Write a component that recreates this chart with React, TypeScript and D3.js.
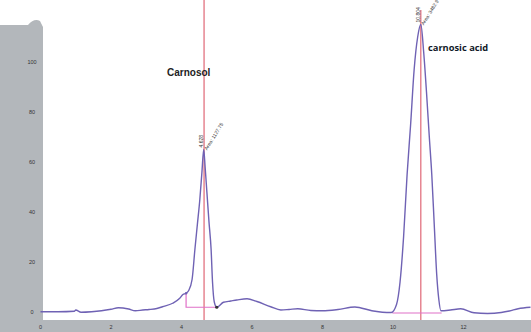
import React from "react";
import * as d3 from "d3";

// retention time (min) and detector response
const times = [
    0, 0.5, 0.96, 1.0, 1.15, 1.45, 1.73, 2.0, 2.21, 2.5, 2.69, 2.9, 3.08, 3.3, 3.46, 3.75, 3.95, 4.04, 4.13,
    4.2, 4.3, 4.38, 4.45, 4.52, 4.58, 4.63, 4.67, 4.72, 4.78, 4.84, 4.88, 4.93, 5.0,
    5.19, 5.4, 5.57, 5.86, 6.14, 6.53, 6.82, 7.05, 7.3, 7.67, 8.0, 8.44, 8.92, 9.4, 9.7, 9.95,
    10.1, 10.2, 10.3, 10.4, 10.5, 10.6, 10.7, 10.79, 10.87, 10.95, 11.03, 11.1, 11.17, 11.24, 11.3, 11.36,
    11.63, 11.92, 12.3, 12.68, 13.07, 13.3, 13.55, 13.9
];
const response = [
    0.1, 0.1, 0.3, 0.8, -0.1, 0.1, 0.5, 1.1, 1.7, 1.2, 0.5, 0.8, 1.0, 1.4, 2.1, 3.5, 5.5, 7.0, 7.5,
    8.5, 13, 25, 35, 45, 56, 65, 58, 48, 36, 25, 12, 4, 1.9,
    3.9, 4.4, 4.8, 5.3, 4.2, 2.1, 0.8, 1.0, 1.3, 0.6, 0.5, 1.0, 2.0, 0.5, -0.1, -0.2,
    3, 12, 30, 55, 75, 97, 110, 115, 104, 88, 70, 55, 35, 15, 5, 0.5,
    0.8, 1.3, -0.3, -0.6, -0.2, 0.4, 1.3, 1.9
];

const xTicks = [0, 2, 4, 6, 8, 10, 12];
const yTicks = [0, 20, 40, 60, 80, 100];

// integrated peaks: apex time, label, area, baseline start/end
const peakTimes = [4.64, 10.79];
const peakRT = ["4.628", "10.804"];
const peakAreas = ["Area: 1127.75", "Area: 3482.9"];
const peakBaseStart = [[4.13, 7.5], [9.98, -0.4]];
const peakBaseEnd = [[5.0, 1.9], [11.38, -0.4]];

const W = 531;
const H = 332;

const x = d3.scaleLinear().domain([0, 14]).range([40.5, 534]);
const y = d3.scaleLinear().domain([0, 100]).range([312, 62]);

const points: [number, number][] = times.map((t, i) => [t, response[i]]);

export default function App() {
    const line = d3.line<[number, number]>()
        .x(d => x(d[0]))
        .y(d => y(d[1]))
        .curve(d3.curveMonotoneX);

    const grey = "#b3b7bb";

    return <div style={{position: "absolute", left: 0, top: 0}}>
        <svg width={W} height={H} style={{display: "block", background: "#fff"}}>
            {/* frame */}
            <path d={`M0,${H} V25 H28 Q34,18 40,21 L43,27 V320 H${W} V${H} Z`} fill={grey}/>

            {/* red retention markers */}
            {peakTimes.map((t, i) =>
                <line key={"rt" + i} x1={x(t)} x2={x(t)} y1={i === 0 ? 0 : 10} y2={320}
                      stroke="#d9485a" strokeWidth={1}/>
            )}

            {/* baselines of integration */}
            {peakTimes.map((t, i) => {
                const s = peakBaseStart[i], e = peakBaseEnd[i];
                const d = i === 0
                    ? `M${x(s[0])},${y(s[1])} V${y(e[1])} H${x(e[0])}`
                    : `M${x(s[0])},${y(s[1])} H${x(e[0])}`;
                return <path key={"bl" + i} d={d} fill="none" stroke="#e070c8" strokeWidth={1.2}/>;
            })}

            {/* trace */}
            <path d={line(points) ?? ""} fill="none" stroke="#6f62b4" strokeWidth={1.4}/>
            <circle cx={x(5.0)} cy={y(1.9)} r={1.6} fill="#333"/>
            <circle cx={x(4.13)} cy={y(7.5)} r={1.2} fill="#6f62b4"/>

            {/* peak annotations */}
            {peakTimes.map((t, i) => {
                const top = i === 0 ? y(65) : y(115);
                return <g key={"pa" + i} fontFamily="Arial, Liberation Sans, sans-serif" fontSize={5} fill="#333">
                    <text transform={`translate(${x(t) - 1},${top - 2}) rotate(-90)`}>{peakRT[i]}</text>
                    <text transform={`translate(${x(t) + 3},${top + 1}) rotate(-58)`}>{peakAreas[i]}</text>
                </g>;
            })}

            <text x={167} y={76} fontFamily="Arial, Liberation Sans, sans-serif" fontWeight="bold"
                  fontSize={10} fill="#222">Carnosol</text>
            <text x={428} y={51} fontFamily="Open Sans, Lato, sans-serif" fontWeight="bold"
                  fontSize={9.3} fill="#111827">carnosic acid</text>

            {/* axis labels */}
            {yTicks.map(v =>
                <text key={"y" + v} x={32} y={y(v) + 2} textAnchor="middle" fontSize={5.5}
                      fontFamily="Arial, Liberation Sans, sans-serif" fill="#333">{v}</text>
            )}
            {xTicks.map(v =>
                <text key={"x" + v} x={x(v)} y={329} textAnchor="middle" fontSize={5.5}
                      fontFamily="Arial, Liberation Sans, sans-serif" fill="#333">{v}</text>
            )}
        </svg>
    </div>;
}
